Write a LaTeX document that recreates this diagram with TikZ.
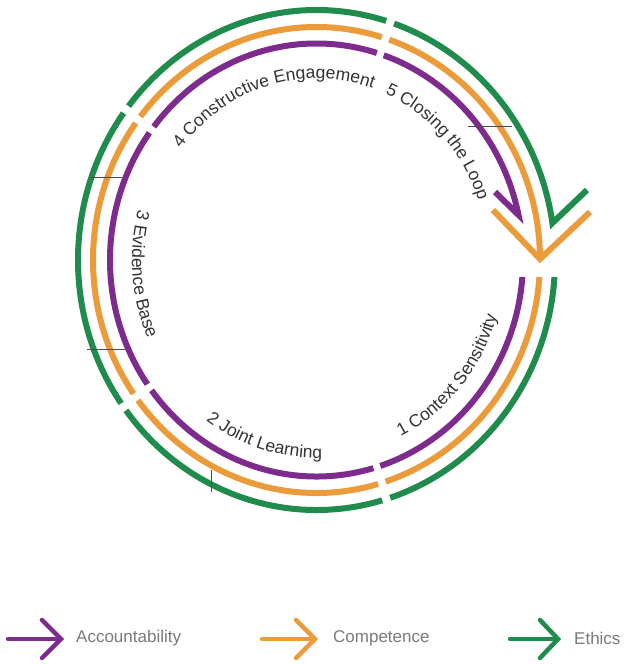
\documentclass[tikz,border=0pt]{standalone}
\usepackage{fontspec}
\setmainfont{Liberation Sans}
\usetikzlibrary{decorations.text}
\definecolor{purp}{HTML}{7E2B8E}
\definecolor{oran}{HTML}{EC9B3B}
\definecolor{gree}{HTML}{1F8B4C}
\definecolor{lblgray}{HTML}{333333}
\definecolor{leggray}{HTML}{7A7A7A}
\newcommand\lblfont{\fontsize{17.5}{17.5}\selectfont}
\begin{document}
\begin{tikzpicture}[x=1pt,y=1pt,
  ring/.style={line width=6pt, line cap=butt, line join=miter, miter limit=10},
  thinline/.style={draw=black!70, line width=0.6pt},
  legarrow/.style={line width=4.5pt, line cap=round, line join=miter},
  legtext/.style={font=\fontsize{17}{17}\selectfont, text=leggray, anchor=west, inner sep=0pt}]
\useasboundingbox (0,0) rectangle (627,-664);
\fill[white] (0,0) rectangle (627,-664);
\coordinate (O) at (316.5,-260);

% middle segments of the three rings
\foreach \col/\rx/\ry in {purp/206.5/216.5, oran/223.5/233, gree/238.5/250}{
  \foreach \a/\b in {286/217, 215/144, 142/73}{
    \draw[ring,\col] (O) ++(\a:\rx pt and \ry pt) arc[start angle=\a, end angle=\b, x radius=\rx pt, y radius=\ry pt];
  }
}
% segment 1
\draw[ring,purp] (O) ++(355.5:206.5pt and 216.5pt) arc[start angle=355.5, end angle=288, x radius=206.5pt, y radius=216.5pt];
\draw[ring,oran] (O) ++(355.8:223.5pt and 233pt) arc[start angle=355.8, end angle=288, x radius=223.5pt, y radius=233pt];
\draw[ring,gree] (O) ++(356.1:238.5pt and 250pt) arc[start angle=356.1, end angle=288, x radius=238.5pt, y radius=250pt];
% segment 5 with arrow heads
\draw[ring,purp] (O) ++(71:206.5pt and 216.5pt) arc[start angle=71, end angle=12, x radius=206.5pt, y radius=216.5pt] -- (495,-192);
\draw[ring,gree] (O) ++(71:238.5pt and 250pt) arc[start angle=71, end angle=8.5, x radius=238.5pt, y radius=250pt] -- (587,-190);
\draw[ring,oran] (O) ++(71:223.5pt and 233pt) arc[start angle=71, end angle=0, x radius=223.5pt, y radius=233pt];
\draw[ring,oran] (493,-210) -- (540,-259) -- (590,-212);

% thin stray lines
\draw[thinline] (468,-126) -- (512,-126);
\draw[thinline] (90,-177) -- (122,-177);
\draw[thinline] (87,-349) -- (125,-349);
\draw[thinline] (211,-470) -- (211,-492);

% labels along the rings
\path[decorate, decoration={text along path, text align=center, text color=lblgray,
  text={|\lblfont|4 Constructive Engagement}}]
  (O) ++(146:171.5pt and 181.5pt) arc[start angle=146, end angle=67, x radius=171.5pt, y radius=181.5pt];
\path[decorate, decoration={text along path, text align=center, text color=lblgray,
  text={|\lblfont|5 Closing the Loop}}]
  (O) ++(75:171.5pt and 181.5pt) arc[start angle=75, end angle=11, x radius=171.5pt, y radius=181.5pt];
\path[decorate, decoration={text along path, text align=center, text color=lblgray,
  text={|\lblfont|3 Evidence Base}}]
  (O) ++(150:184.5pt and 194.5pt) arc[start angle=150, end angle=219, x radius=184.5pt, y radius=194.5pt];
\path[decorate, decoration={text along path, text align=center, text color=lblgray,
  text={|\lblfont|2 Joint Learning}}]
  (O) ++(221:188pt and 198pt) arc[start angle=221, end angle=285, x radius=188pt, y radius=198pt];
\path[decorate, decoration={text along path, text align=center, text color=lblgray,
  text={|\lblfont|1 Context Sensitivity}}]
  (O) ++(291:188pt and 198pt) arc[start angle=291, end angle=349, x radius=188pt, y radius=198pt];

% legend
\draw[legarrow,purp] (8,-639) -- (59,-639);
\draw[legarrow,purp] (42,-620) -- (61,-639) -- (42,-658);
\node[legtext] (acc) at (76,-638) {Accountability};
\draw[legarrow,oran] (262,-639) -- (313,-639);
\draw[legarrow,oran] (296,-620) -- (315,-639) -- (296,-658);
\node[legtext] (comp) at (333,-638) {Competence};
\draw[legarrow,gree] (510,-639) -- (556,-639);
\draw[legarrow,gree] (540,-620) -- (558,-639) -- (540,-658);
\node[legtext] (eth) at (574,-638) {Ethics};
\end{tikzpicture}
\end{document}
